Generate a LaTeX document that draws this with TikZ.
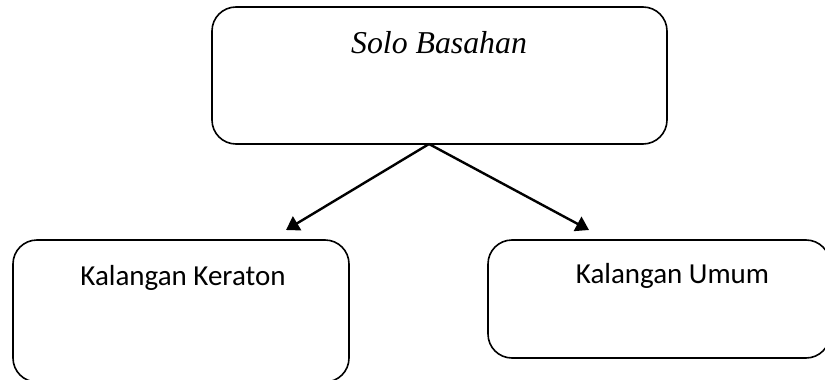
\documentclass[tikz,border=0pt]{standalone}
\usepackage{fontspec}
\setmainfont{Liberation Serif}
\newfontfamily\bodyfont{Carlito}
\usetikzlibrary{arrows.meta}
\tikzset{
  box/.style={draw=black, line width=1.6pt, rounded corners=24pt, inner sep=0pt},
  toptext/.style={anchor=base, inner sep=0pt, font=\fontsize{31.8pt}{36pt}\selectfont\itshape},
  subtext/.style={anchor=base, inner sep=0pt, font=\fontsize{29pt}{34pt}\selectfont\bodyfont},
  link/.style={line width=2.4pt, -{Triangle[length=13pt, width=16pt]}}
}
\begin{document}
\begin{tikzpicture}[x=1pt, y=-1pt]
  \useasboundingbox (0,0) rectangle (825,380);
  \clip (0,0) rectangle (825,380);
  % top category
  \node[box, minimum width=455pt, minimum height=137pt] (top) at (439.5,75.5) {};
  \node[toptext] (toplabel) at (439,53) {Solo Basahan};
  % two sub-categories
  \node[box, minimum width=336pt, minimum height=142pt] (left) at (181,311) {};
  \node[subtext] (leftlabel) at (183,285) {Kalangan Keraton};
  \node[box, minimum width=342pt, minimum height=118pt] (right) at (659,299) {};
  \node[subtext] (rightlabel) at (672.5,283) {Kalangan Umum};
  % branching arrows
  \coordinate (fork) at (429,144);
  \coordinate (tipl) at (286,230);
  \coordinate (tipr) at (589,230);
  \draw[link] (fork) -- (tipl);
  \draw[link] (fork) -- (tipr);
\end{tikzpicture}
\end{document}
